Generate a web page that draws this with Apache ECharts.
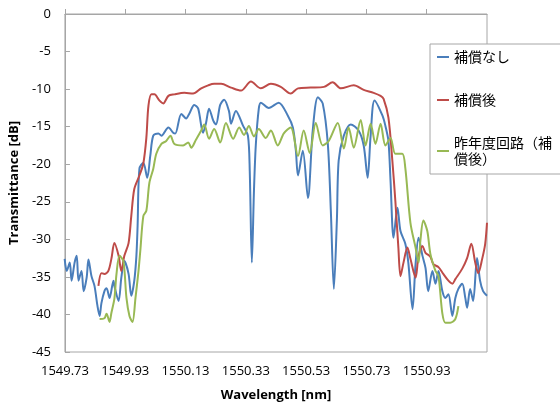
<!DOCTYPE html>
<html>
<head>
<meta charset="utf-8">
<script src="https://cdn.jsdelivr.net/npm/echarts@6/dist/echarts.min.js"></script>
<style>html,body{margin:0;padding:0;background:#fff;}#c{width:560px;height:408px;}</style>
</head>
<body>
<div id="c"></div>
<script>
// Wavelength axis: start and tick step (nm)
const xStart = 1549.73;
const xEnd = 1551.13;
const xStep = 0.2;
const yMin = -45, yMax = 0, yStep = 5;

const seriesNames = ['補償なし', '補償後', '昨年度回路（補償後）'];

// 補償なし  [wavelength nm, dB]
const blueData = [
[1549.729,-32.6],[1549.736,-34.2],[1549.746,-33.1],[1549.752,-35.5],[1549.762,-33.1],[1549.769,-32.2],
[1549.775,-35.5],[1549.785,-34.2],[1549.792,-36.9],[1549.802,-35.1],[1549.808,-32.7],[1549.818,-34.9],
[1549.828,-36.2],[1549.838,-38.9],[1549.845,-40.2],[1549.851,-38.5],[1549.861,-36.9],[1549.868,-36.5],
[1549.878,-37.8],[1549.891,-35.5],[1549.894,-36.2],[1549.908,-38.2],[1549.917,-35.1],[1549.927,-32.9],
[1549.941,-34.6],[1549.950,-37.5],[1549.960,-35.5],[1549.967,-32.2],[1549.971,-28.2],[1549.977,-20.6],
[1549.990,-19.8],[1550.003,-21.8],[1550.013,-18.9],[1550.023,-16.2],[1550.040,-15.9],[1550.050,-16.2],
[1550.073,-15.1],[1550.089,-15.8],[1550.096,-15.9],[1550.116,-13.3],[1550.132,-13.9],[1550.142,-13.3],
[1550.159,-12.1],[1550.172,-12.6],[1550.188,-15.8],[1550.198,-14.5],[1550.208,-12.6],[1550.222,-14.2],
[1550.231,-14.7],[1550.245,-12.1],[1550.258,-11.4],[1550.274,-12.9],[1550.281,-14.6],[1550.297,-12.9],
[1550.321,-14.9],[1550.337,-16.2],[1550.343,-20.9],[1550.350,-33.1],[1550.357,-23.5],[1550.363,-17.5],
[1550.373,-12.6],[1550.380,-11.8],[1550.406,-12.5],[1550.439,-11.8],[1550.469,-13.5],[1550.486,-15.1],
[1550.496,-18.2],[1550.503,-21.5],[1550.519,-18.2],[1550.536,-24.5],[1550.552,-15.5],[1550.569,-11.1],
[1550.585,-11.9],[1550.602,-17.3],[1550.612,-26.2],[1550.622,-36.6],[1550.632,-27.5],[1550.638,-19.5],
[1550.655,-16.2],[1550.678,-14.7],[1550.704,-15.5],[1550.721,-17.5],[1550.734,-21.8],[1550.744,-16.2],
[1550.757,-11.5],[1550.783,-13.5],[1550.793,-14.9],[1550.803,-16.9],[1550.810,-22.2],[1550.820,-29.8],
[1550.833,-25.8],[1550.843,-28.9],[1550.859,-30.6],[1550.869,-33.1],[1550.883,-39.3],[1550.893,-33.3],
[1550.903,-29.8],[1550.916,-32.2],[1550.926,-33.8],[1550.935,-36.9],[1550.949,-34.2],[1550.959,-35.9],
[1550.969,-34.2],[1550.982,-36.9],[1550.992,-37.8],[1551.002,-37.3],[1551.015,-40.2],[1551.025,-37.8],
[1551.035,-36.6],[1551.048,-35.9],[1551.058,-37.8],[1551.064,-39.1],[1551.074,-36.6],[1551.084,-38.2],
[1551.097,-32.5],[1551.107,-35.5],[1551.117,-36.9],[1551.130,-37.5]
];

// 補償後
const redData = [
[1549.841,-36.2],[1549.851,-34.5],[1549.861,-34.6],[1549.874,-34.2],[1549.884,-32.6],[1549.894,-30.5],
[1549.908,-32.2],[1549.917,-34.2],[1549.927,-32.2],[1549.941,-30.5],[1549.950,-26.9],[1549.960,-23.3],
[1549.977,-21.5],[1549.990,-19.9],[1550.000,-16.5],[1550.007,-12.2],[1550.017,-10.7],[1550.027,-10.7],
[1550.043,-11.5],[1550.056,-11.9],[1550.073,-10.9],[1550.093,-10.7],[1550.126,-10.5],[1550.155,-10.6],
[1550.182,-9.9],[1550.205,-9.5],[1550.225,-9.3],[1550.248,-9.3],[1550.281,-9.8],[1550.314,-10.2],
[1550.347,-9.0],[1550.380,-9.9],[1550.413,-9.3],[1550.446,-9.7],[1550.479,-10.6],[1550.503,-9.9],
[1550.545,-9.8],[1550.589,-9.7],[1550.618,-9.1],[1550.645,-9.9],[1550.688,-9.5],[1550.721,-10.1],
[1550.754,-10.5],[1550.777,-10.9],[1550.787,-11.3],[1550.803,-13.8],[1550.816,-19.5],[1550.826,-24.9],
[1550.836,-31.1],[1550.843,-34.9],[1550.853,-33.1],[1550.866,-31.1],[1550.876,-32.6],[1550.893,-35.1],
[1550.903,-32.2],[1550.916,-30.9],[1550.926,-31.8],[1550.942,-32.3],[1550.952,-33.3],[1550.969,-33.7],
[1550.985,-34.6],[1551.002,-35.5],[1551.015,-35.9],[1551.025,-35.3],[1551.048,-33.9],[1551.064,-32.5],
[1551.078,-30.6],[1551.091,-33.1],[1551.101,-34.5],[1551.114,-32.6],[1551.124,-30.6],[1551.130,-27.8]
];

// 昨年度回路（補償後）
const greenData = [
[1549.845,-40.6],[1549.861,-40.5],[1549.868,-39.9],[1549.878,-41.0],[1549.884,-39.8],[1549.894,-37.9],
[1549.901,-34.6],[1549.911,-32.2],[1549.924,-32.9],[1549.934,-37.8],[1549.944,-40.2],[1549.954,-41.0],
[1549.964,-37.8],[1549.974,-34.2],[1549.980,-31.5],[1549.990,-26.9],[1550.000,-26.2],[1550.010,-22.5],
[1550.023,-20.6],[1550.033,-18.6],[1550.050,-17.3],[1550.066,-16.9],[1550.080,-16.2],[1550.093,-17.3],
[1550.122,-17.5],[1550.139,-17.1],[1550.149,-17.8],[1550.165,-16.7],[1550.182,-15.5],[1550.192,-14.7],
[1550.208,-16.6],[1550.225,-15.3],[1550.245,-17.1],[1550.264,-14.5],[1550.288,-16.6],[1550.308,-15.1],
[1550.324,-16.1],[1550.340,-14.9],[1550.357,-16.3],[1550.373,-15.3],[1550.396,-16.5],[1550.413,-15.5],
[1550.436,-17.5],[1550.456,-15.9],[1550.479,-15.1],[1550.503,-18.9],[1550.522,-15.5],[1550.542,-18.5],
[1550.562,-14.5],[1550.585,-17.5],[1550.605,-16.9],[1550.635,-14.5],[1550.655,-17.9],[1550.671,-15.1],
[1550.688,-17.8],[1550.711,-14.1],[1550.727,-17.5],[1550.744,-14.6],[1550.760,-17.3],[1550.777,-14.6],
[1550.793,-17.5],[1550.810,-16.5],[1550.826,-18.6],[1550.849,-18.6],[1550.859,-20.5],[1550.876,-27.8],
[1550.893,-31.1],[1550.903,-33.1],[1550.909,-30.2],[1550.919,-27.5],[1550.932,-28.9],[1550.942,-31.9],
[1550.959,-34.2],[1550.969,-34.9],[1550.982,-39.9],[1550.992,-41.1],[1551.008,-41.1],[1551.025,-40.6],
[1551.035,-38.9]
];

const colors = ['#4A7EBB', '#BE4B48', '#98B954'];
const toRel = d => d.map(p => [+(p[0] - xStart).toFixed(4), p[1]]);
const font = '"Open Sans", Lato, sans-serif';

const chart = echarts.init(document.getElementById('c'), null, {renderer: 'canvas'});
chart.setOption({
  animation: false,
  backgroundColor: '#fff',
  color: colors,
  grid: {left: 63, right: 73, top: 14, bottom: 56, show: true, borderColor: '#A6A6A6', borderWidth: 1},
  legend: {
    orient: 'vertical', left: 430, top: 44,
    padding: [5, 10, 7, 7],
    itemGap: 27,
    itemWidth: 12, itemHeight: 2, icon: 'rect',
    backgroundColor: '#fff', borderColor: '#A6A6A6', borderWidth: 1, borderRadius: 0,
    textStyle: {fontFamily: '"Noto Sans CJK JP", sans-serif', fontSize: 14, color: '#000', width: 104, overflow: 'break', lineHeight: 16},
    data: seriesNames
  },
  xAxis: {
    type: 'value', min: 0, max: +(xEnd - xStart).toFixed(2), interval: xStep,
    name: 'Wavelength [nm]', nameLocation: 'middle', nameGap: 37,
    nameTextStyle: {fontFamily: font, fontWeight: 'bold', fontSize: 13, color: '#000'},
    axisLine: {lineStyle: {color: '#A6A6A6'}},
    axisTick: {inside: true, length: 5, lineStyle: {color: '#A6A6A6'}},
    axisLabel: {fontFamily: font, fontSize: 13, color: '#000', margin: 13, showMaxLabel: false,
      formatter: v => (v + xStart).toFixed(2)},
    splitLine: {show: false}
  },
  yAxis: {
    type: 'value', min: yMin, max: yMax, interval: yStep,
    name: 'Transmittance [dB]', nameLocation: 'middle', nameGap: 39,
    nameTextStyle: {fontFamily: font, fontWeight: 'bold', fontSize: 13, color: '#000'},
    axisLine: {show: true, lineStyle: {color: '#A6A6A6'}},
    axisTick: {show: true, inside: true, length: 5, lineStyle: {color: '#A6A6A6'}},
    axisLabel: {fontFamily: font, fontSize: 13, color: '#000', margin: 14},
    splitLine: {show: false}
  },
  series: [
    {name: seriesNames[0], type: 'line', data: toRel(blueData), symbol: 'none', smooth: 0.3, lineStyle: {width: 2, color: colors[0]}},
    {name: seriesNames[1], type: 'line', data: toRel(redData), symbol: 'none', smooth: 0.3, lineStyle: {width: 2, color: colors[1]}},
    {name: seriesNames[2], type: 'line', data: toRel(greenData), symbol: 'none', smooth: 0.3, lineStyle: {width: 2, color: colors[2]}}
  ]
});
</script>
</body>
</html>
